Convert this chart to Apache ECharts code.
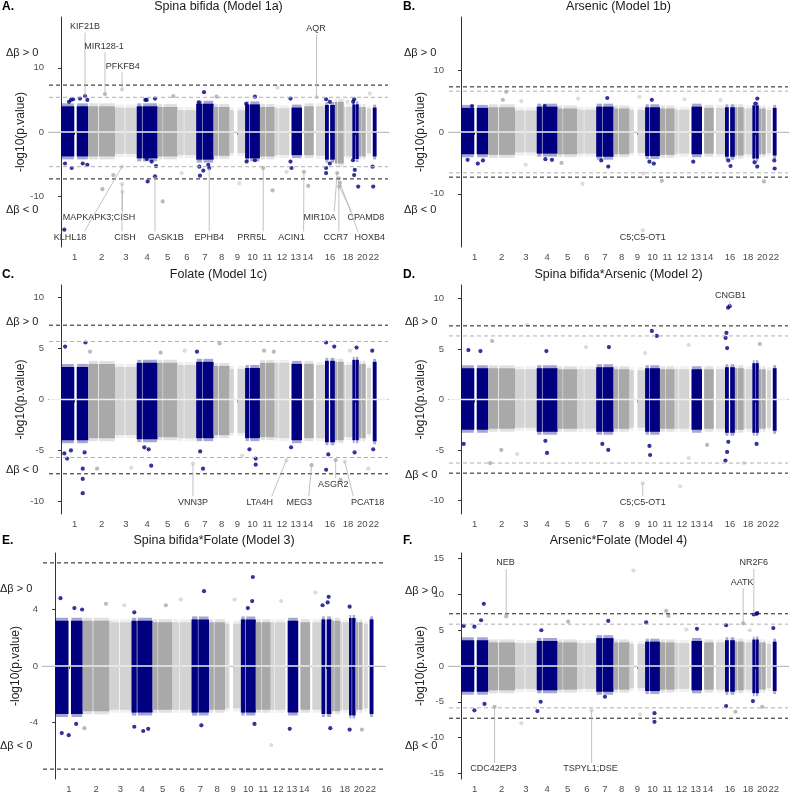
<!DOCTYPE html>
<html>
<head>
<meta charset="utf-8">
<script src="https://cdn.jsdelivr.net/npm/echarts@6/dist/echarts.min.js"></script>
<style>
  html, body { margin: 0; padding: 0; background: #fff; }
  #chart { width: 794px; height: 794px; }
</style>
</head>
<body>
<div id="chart"></div>
<script>
// chromosome lengths (Mb) and the centromere / unmapped gap inside each one
const chromLen = [249.3, 243.2, 198.0, 191.2, 180.9, 171.1, 159.1, 146.4, 141.2, 135.5, 135.0,
  133.9, 115.2, 107.3, 102.5, 90.4, 81.2, 78.1, 59.1, 63.0, 48.1, 51.3];
const gapFrom = [121, 90, 88, 48, 46, 58, 58, 43, 38, 39, 51, 34, 0, 0, 0, 35, 22, 15, 24, 26, 0, 0];
const gapTo = [143, 96, 94, 53, 50, 63, 62, 48, 71, 43, 55, 38, 19, 19, 20, 47, 26, 19, 28, 30, 11, 16];
const chromLabels = ['1', '2', '3', '4', '5', '6', '7', '8', '9', '10', '11', '12', '13', '14', '',
  '16', '', '18', '', '20', '', '22'];
const chromCols = ['#000080', '#a9a9a9', '#d3d3d3'];

// dense cloud of each chromosome: upper / lower edge of -log10(p), signed by direction
const hiA = [4.0, 4.0, 3.8, 4.0, 3.9, 3.4, 4.4, 3.9, 3.4, 4.3, 3.9, 3.7, 3.8, 4.0, 4.0, 4.2, 4.7, 3.9, 4.3, 3.9, 3.7, 3.8];
const loA = [-3.8, -3.8, -3.4, -4.1, -3.8, -3.6, -4.3, -3.7, -3.3, -4.1, -3.8, -3.6, -3.6, -3.6, -3.7, -4.3, -4.9, -3.8, -4.2, -3.8, -3.3, -3.8];
const hiB = [3.9, 4.0, 3.5, 4.1, 3.8, 3.6, 4.1, 3.8, 3.6, 4.0, 3.8, 3.6, 4.1, 3.9, 3.9, 4.0, 4.0, 3.8, 4.3, 3.8, 3.6, 3.9];
const loB = [-3.6, -3.7, -3.3, -3.5, -3.6, -3.5, -4.0, -3.6, -3.4, -3.9, -3.7, -3.5, -3.6, -3.5, -3.6, -4.0, -3.8, -3.6, -4.3, -3.6, -3.4, -3.8];
const hiC = [3.2, 3.5, 3.2, 3.6, 3.6, 3.4, 3.7, 3.3, 3.0, 3.1, 3.6, 3.6, 3.5, 3.5, 3.4, 3.8, 3.7, 3.4, 3.9, 3.5, 3.1, 3.7];
const loC = [-4.0, -3.8, -3.5, -3.9, -3.7, -3.8, -3.8, -3.5, -3.3, -3.8, -3.7, -3.8, -4.0, -3.8, -3.8, -4.2, -4.0, -3.7, -4.0, -3.8, -3.4, -4.1];
const hiD = [3.1, 3.1, 3.0, 3.1, 3.0, 3.0, 3.2, 3.0, 2.9, 3.1, 3.0, 3.0, 3.0, 3.0, 3.0, 3.2, 3.1, 3.0, 3.6, 3.0, 2.9, 3.1];
const loD = [-3.0, -2.9, -2.8, -3.2, -2.9, -2.9, -3.2, -2.9, -2.8, -3.2, -2.9, -2.9, -3.0, -2.9, -2.9, -3.3, -3.0, -2.9, -3.3, -2.9, -2.8, -3.1];
const hiE = [3.2, 3.2, 3.1, 3.2, 3.1, 3.1, 3.3, 3.1, 3.0, 3.3, 3.1, 3.1, 3.2, 3.1, 3.1, 3.3, 3.2, 3.1, 3.4, 3.1, 3.0, 3.3];
const loE = [-3.4, -3.2, -3.1, -3.3, -3.1, -3.1, -3.3, -3.1, -3.0, -3.3, -3.1, -3.1, -3.3, -3.1, -3.1, -3.4, -3.2, -3.1, -3.5, -3.1, -3.0, -3.4];
const hiF = [3.6, 3.3, 3.2, 3.5, 3.3, 3.2, 3.9, 3.3, 3.1, 3.4, 3.3, 3.2, 3.5, 3.3, 3.3, 3.6, 3.4, 3.3, 3.7, 3.3, 3.1, 3.4];
const loF = [-3.6, -3.4, -3.2, -3.4, -3.3, -3.2, -3.6, -3.3, -3.1, -3.5, -3.3, -3.2, -3.4, -3.3, -3.3, -3.6, -3.4, -3.3, -3.8, -3.3, -3.1, -3.5];

// CpGs that stand out of the cloud: [genome position (Mb), signed -log10(p)]
const ptsA = [[219, 5.6], [401, 5.9], [557, 6.6], [2333, 5.4], [1305, 6.2], [1977, 6.9], [2819, 6.0], [73, 4.7], [110, 5.1],
  [173, 5.2], [240, 5.0], [91, 5.0], [770, 5.0], [782, 5.0], [858, 5.2], [1025, 5.6], [1770, 5.5], [1420, 5.5], [2095, 5.2],
  [2420, 5.1], [2454, 4.7], [2615, 4.7], [2676, 5.1], [2667, 4.7], [1259, 4.6], [1690, 4.4],
  [30, -15.2], [557, -5.4], [557, -8.1], [560, -9.3], [858, -6.9], [1353, -5.6], [1846, -5.6], [2217, -6.2], [2521, -6.4],
  [2536, -7.2], [2546, -7.9], [2540, -8.5], [377, -8.9], [478, -6.7], [791, -7.7], [928, -10.8], [1101, -6.4], [1268, -6.8],
  [1627, -8.0], [1931, -9.1], [2059, -6.2], [2257, -8.4], [2420, -6.4], [2676, -6.7], [2713, -8.5], [2850, -8.5],
  [36, -4.9], [97, -5.6], [198, -4.9], [240, -5.1], [782, -4.2], [827, -4.6], [867, -5.3], [1262, -5.4], [1299, -6.0],
  [1344, -5.1], [1694, -4.6], [1770, -4.4], [2095, -4.6], [2104, -5.6], [2420, -5.6], [2454, -4.9], [2665, -4.4],
  [2682, -5.9], [2844, -5.4]];
const ptsB = [[412, 6.5], [382, 5.2], [550, 5.0], [1069, 5.4], [1335, 5.5], [1628, 5.7], [1742, 5.2], [2041, 5.3], [2705, 5.4],
  [2368, 5.2], [100, 4.2], [764, 4.2], [2689, 4.6],
  [1109, -8.4], [1665, -6.7], [1833, -7.9], [2765, -8.0], [2863, -5.9], [1344, -5.6], [2460, -5.5], [590, -5.3], [153, -5.1],
  [1659, -15.9], [917, -5.0], [2704, -5.6], [60, -4.5], [200, -4.6], [770, -4.4], [830, -4.5], [1280, -4.6], [1720, -4.8],
  [1760, -5.1], [2120, -4.8], [2440, -4.6], [2680, -4.9], [2860, -4.6]];
const ptsC = [[37, 5.2], [223, 5.6], [265, 4.7], [1448, 5.5], [1241, 4.7], [1854, 4.8], [1942, 4.7], [2420, 5.6], [2494, 5.2],
  [2698, 5.1], [2841, 4.8], [909, 4.6], [1128, 4.8], [2637, 4.8],
  [198, -6.8], [198, -7.8], [198, -9.2], [55, -5.8], [329, -6.8], [640, -6.7], [1296, -6.8], [1777, -6.4], [2420, -6.9],
  [2552, -7.9], [2805, -6.8], [823, -6.5], [1204, -6.3], [2058, -5.95], [2287, -6.45], [2507, -5.95], [2590, -6.1],
  [1777, -5.8], [1655, -5.5], [30, -5.3], [90, -5.0], [215, -5.2], [760, -4.7], [800, -4.9], [1270, -5.1], [1720, -4.9],
  [2100, -4.7], [2440, -5.4], [2680, -5.2], [2850, -4.9]];
const ptsD = [[2453, 9.25], [2438, 9.1], [605, 7.4], [1742, 6.8], [1787, 6.3], [2423, 6.6], [2429, 5.1], [2728, 5.5],
  [2415, 6.1], [67, 4.9], [284, 5.8], [1350, 5.2], [1140, 5.2], [2078, 5.4], [779, 4.8], [177, 4.8], [1680, 4.6],
  [1659, -8.3], [2001, -8.6], [2414, -6.05], [2429, -5.2], [1726, -5.5], [785, -5.3], [513, -5.4], [367, -5.0],
  [1344, -5.0], [2078, -5.8], [2246, -4.5], [2698, -4.4], [2582, -6.3], [266, -6.3], [24, -4.4], [1290, -4.4],
  [1720, -4.6], [2440, -4.2], [770, -4.1]];
const ptsE = [[48, 4.8], [174, 4.1], [244, 4.0], [1347, 5.3], [1789, 6.3], [1783, 4.6], [1744, 4.1], [2355, 5.2], [2475, 4.9],
  [1137, 4.7], [1624, 4.7], [2045, 4.6], [2466, 4.5], [626, 4.3], [460, 4.4], [1002, 4.3], [2420, 4.3], [2665, 4.2],
  [716, 3.8], [60, -4.75], [123, -4.9], [716, -4.3], [797, -4.6], [842, -4.45], [1323, -4.2], [1955, -5.6], [2123, -4.45],
  [2665, -4.5], [1804, -4.1], [2776, -4.5], [2490, -4.4], [265, -4.4], [190, -4.1]];
const ptsF = [[1573, 13.35], [208, 8.7], [1873, 7.7], [2673, 7.2], [2705, 7.4], [412, 6.95], [2576, 5.95], [2698, 7.3],
  [183, 6.4], [1344, 6.3], [1690, 6.1], [978, 6.2], [1894, 7.0], [24, 5.6], [122, 5.5], [2420, 5.7], [2851, 5.3],
  [2056, 5.1], [2154, 5.2], [2637, 5.0], [733, 5.0],
  [122, -6.2], [214, -5.3], [306, -5.7], [1192, -6.2], [697, -6.3], [1766, -7.8], [1766, -6.6], [1635, -6.8], [550, -8.0],
  [2420, -5.6], [2505, -6.4], [2750, -5.7], [2665, -4.9], [727, -5.0], [1314, -4.3]];

// gene labels: [text, label position, label value, CpG position, CpG value]
const annA = [['KIF21B', 219, 16.4, 219, 5.6], ['MIR128-1', 392, 13.3, 401, 5.9], ['PFKFB4', 563, 10.2, 557, 6.6],
  ['AQR', 2327, 16.1, 2333, 5.4], ['KLHL18', 82, -16.4, 557, -5.4], ['MAPKAPK3;CISH', 347, -13.3, 560, -9.3],
  ['CISH', 584, -16.4, 557, -8.1], ['GASK1B', 955, -16.4, 858, -6.9], ['EPHB4', 1353, -16.4, 1353, -5.6],
  ['PRR5L', 1740, -16.4, 1846, -5.6], ['ACIN1', 2105, -16.4, 2217, -6.2], ['MIR10A', 2363, -13.3, 2521, -6.4],
  ['CCR7', 2509, -16.4, 2536, -7.2], ['CPAMD8', 2783, -13.3, 2540, -8.5], ['HOXB4', 2819, -16.4, 2546, -7.9]];
const annB = [['C5;C5-OT1', 1659, -17.0, 1659, -15.9]];
const annC = [['VNN3P', 1204, -10.1, 1204, -6.3], ['LTA4H', 1814, -10.1, 2058, -5.95], ['MEG3', 2174, -10.1, 2287, -6.45],
  ['ASGR2', 2485, -8.33, 2507, -5.95], ['PCAT18', 2799, -10.1, 2590, -6.1]];
const annD = [['CNGB1', 2460, 10.3, 2453, 9.25], ['C5;C5-OT1', 1659, -10.2, 1659, -8.3]];
const annE = [];
const annF = [['NEB', 406, 14.4, 412, 6.95], ['AATK', 2566, 11.7, 2576, 5.95], ['NR2F6', 2673, 14.4, 2673, 7.2],
  ['CDC42EP3', 296, -14.4, 306, -5.7], ['TSPYL1;DSE', 1182, -14.4, 1192, -6.2]];

// thresholds: genome-wide (black) and FDR (grey)
const sigLine = 7.3;
const fdrLines = [5.4, 6.6, 5.7, 6.3, null, 5.85];

const titles = ['Spina bifida (Model 1a)', 'Arsenic (Model 1b)', 'Folate (Model 1c)',
  'Spina bifida*Arsenic (Model 2)', 'Spina bifida*Folate (Model 3)', 'Arsenic*Folate (Model 4)'];
const letters = ['A.', 'B.', 'C.', 'D.', 'E.', 'F.'];
const yTicks = [[-10, 0, 10], [-10, 0, 10], [-10, -5, 0, 5, 10], [-10, -5, 0, 5, 10], [-4, 0, 4], [-15, -10, -5, 0, 5, 10, 15]];
const yRange = [[-17.9, 17.9], [-18.6, 18.6], [-11.25, 11.25], [-11.35, 11.35], [-8, 8], [-15.8, 15.8]];

const his = [hiA, hiB, hiC, hiD, hiE, hiF];
const los = [loA, loB, loC, loD, loE, loF];
const pts = [ptsA, ptsB, ptsC, ptsD, ptsE, ptsF];
const anns = [annA, annB, annC, annD, annE, annF];

// layout of the six panels
const grids = [
  { left: 49, top: 17, width: 339, height: 230 },
  { left: 449, top: 17, width: 339, height: 230 },
  { left: 49, top: 285, width: 339, height: 229 },
  { left: 449, top: 285, width: 339, height: 229 },
  { left: 43, top: 553, width: 342, height: 230 },
  { left: 449, top: 553, width: 339, height: 230 }
];
const textPos = [
  { letter: [2, 7], title: 7, up: [6, 53], down: [6, 210] },
  { letter: [403, 7], title: 7, up: [404, 53], down: [404, 210] },
  { letter: [2, 275], title: 275, up: [6, 322], down: [6, 470] },
  { letter: [403, 275], title: 275, up: [405, 322], down: [405, 475] },
  { letter: [2, 541], title: 541, up: [0, 589], down: [0, 746] },
  { letter: [403, 541], title: 541, up: [405, 591], down: [405, 746] }
];

const FONT = '"Liberation Sans", Arial, sans-serif';

const chromStart = [];
let acc = 0;
chromLen.forEach(l => { chromStart.push(acc); acc += l; });
const chromMid = chromStart.map((s, i) => s + chromLen[i] / 2);
const labelMids = chromMid.filter((m, i) => chromLabels[i] !== '');
const midLabel = {};
chromMid.forEach((m, i) => { midLabel[m.toFixed(2)] = chromLabels[i]; });

function chromOf (g) {
  for (let c = chromLen.length - 1; c >= 0; c--) {
    if (g >= chromStart[c]) return c;
  }
  return 0;
}

function blockData (hi, lo) {
  const out = [];
  chromLen.forEach((len, c) => {
    const s = chromStart[c];
    if (gapFrom[c] > 0) out.push([s, s + gapFrom[c], lo[c], hi[c], c % 3]);
    out.push([s + gapTo[c], s + len, lo[c], hi[c], c % 3]);
  });
  return out;
}

// solid core plus a thin, paler fringe where the points thin out
function renderBlock (params, api) {
  const a = api.coord([api.value(0), api.value(3)]);
  const b = api.coord([api.value(1), api.value(2)]);
  const w = b[0] - a[0];
  const fill = chromCols[api.value(4)];
  return {
    type: 'group',
    children: [
      { type: 'rect', shape: { x: a[0] + 0.5, y: a[1] - 3, width: w - 1, height: b[1] - a[1] + 6 },
        style: { fill: fill, opacity: 0.35 } },
      { type: 'rect', shape: { x: a[0], y: a[1], width: w, height: b[1] - a[1] },
        style: { fill: fill } }
    ]
  };
}

function renderRule (params, api) {
  const cs = params.coordSys;
  const y = api.coord([0, api.value(1)])[1];
  const kind = api.value(2);
  let st;
  if (kind === 0) st = { stroke: '#1a1a1a', lineWidth: 1, lineDash: [4, 3] };
  else if (kind === 1) st = { stroke: '#b0b0b0', lineWidth: 1, lineDash: [4, 3] };
  else st = { stroke: '#eeeeee', lineWidth: 1.6 };
  return { type: 'line', shape: { x1: cs.x, y1: y, x2: cs.x + cs.width, y2: y }, style: st };
}

function makeAnnRender (ann) {
  return function (params, api) {
    const lab = api.coord([api.value(0), api.value(1)]);
    const pt = api.coord([api.value(2), api.value(3)]);
    const text = ann[params.dataIndex][0];
    const half = text.length * 2.4;
    const sx = lab[0] + Math.max(-half, Math.min(half, pt[0] - lab[0]));
    const sy = pt[1] < lab[1] ? lab[1] - 6 : lab[1] + 6;
    const children = [];
    if (Math.abs(pt[1] - sy) > 4) {
      children.push({
        type: 'line',
        shape: { x1: sx, y1: sy, x2: pt[0], y2: pt[1] },
        style: { stroke: '#b3b3b3', lineWidth: 0.8 }
      });
    }
    children.push({
      type: 'text',
      style: { text: text, x: lab[0], y: lab[1], align: 'center', verticalAlign: 'middle',
        font: '9px ' + FONT, fill: '#333' }
    });
    return { type: 'group', children: children };
  };
}

const xAxes = [], yAxes = [], series = [], graphics = [];

for (let i = 0; i < 6; i++) {
  xAxes.push({
    gridIndex: i,
    type: 'value',
    min: -110,
    max: 2985,
    axisLine: { lineStyle: { color: '#333', width: 1 } },
    axisTick: { customValues: chromMid, length: 3, lineStyle: { color: '#333' } },
    axisLabel: {
      customValues: labelMids,
      formatter: v => midLabel[v.toFixed(2)] || '',
      fontSize: 9.5, color: '#4d4d4d', margin: 5, fontFamily: FONT
    },
    splitLine: { show: false }
  });
  yAxes.push({
    gridIndex: i,
    type: 'value',
    min: yRange[i][0],
    max: yRange[i][1],
    name: '-log10(p.value)',
    nameLocation: 'middle',
    nameGap: 21,
    nameTextStyle: { fontSize: 12, color: '#222', fontFamily: FONT },
    axisLine: { show: true, lineStyle: { color: '#333', width: 1 } },
    axisTick: { show: true, customValues: yTicks[i], length: 3, lineStyle: { color: '#333' } },
    axisLabel: { customValues: yTicks[i], fontSize: 9.5, color: '#4d4d4d', margin: 5, fontFamily: FONT },
    splitLine: { show: false }
  });

  series.push({
    type: 'custom',
    xAxisIndex: i, yAxisIndex: i,
    renderItem: renderBlock,
    encode: { x: [0, 1], y: [2, 3] },
    data: blockData(his[i], los[i]),
    silent: true, z: 1
  });
  series.push({
    type: 'scatter',
    xAxisIndex: i, yAxisIndex: i,
    symbolSize: 4.2,
    data: pts[i],
    itemStyle: { color: p => chromCols[chromOf(p.data[0]) % 3] },
    silent: true, z: 2
  });
  const rules = [[0, 0, 2], [0, sigLine, 0], [0, -sigLine, 0]];
  if (fdrLines[i] !== null) rules.push([0, fdrLines[i], 1], [0, -fdrLines[i], 1]);
  series.push({
    type: 'custom',
    xAxisIndex: i, yAxisIndex: i,
    renderItem: renderRule,
    data: rules,
    silent: true, z: 3
  });
  if (anns[i].length) {
    series.push({
      type: 'custom',
      xAxisIndex: i, yAxisIndex: i,
      renderItem: makeAnnRender(anns[i]),
      data: anns[i].map(a => [a[1], a[2], a[3], a[4]]),
      silent: true, z: 4
    });
  }

  const g = grids[i], tp = textPos[i];
  graphics.push({
    type: 'text', x: tp.letter[0], y: tp.letter[1],
    style: { text: letters[i], font: 'bold 12px ' + FONT, fill: '#000', verticalAlign: 'middle' }
  });
  graphics.push({
    type: 'text', x: g.left + g.width / 2, y: tp.title,
    style: { text: titles[i], font: '12.5px ' + FONT, fill: '#1a1a1a', align: 'center', verticalAlign: 'middle' }
  });
  graphics.push({
    type: 'text', x: tp.up[0], y: tp.up[1],
    style: { text: 'Δβ > 0', font: '11px ' + FONT, fill: '#222', verticalAlign: 'middle' }
  });
  graphics.push({
    type: 'text', x: tp.down[0], y: tp.down[1],
    style: { text: 'Δβ < 0', font: '11px ' + FONT, fill: '#222', verticalAlign: 'middle' }
  });
}

const chart = echarts.init(document.getElementById('chart'), null, { renderer: 'canvas' });
chart.setOption({
  animation: false,
  backgroundColor: '#fff',
  grid: grids,
  xAxis: xAxes,
  yAxis: yAxes,
  series: series,
  graphic: graphics
});
</script>
</body>
</html>
